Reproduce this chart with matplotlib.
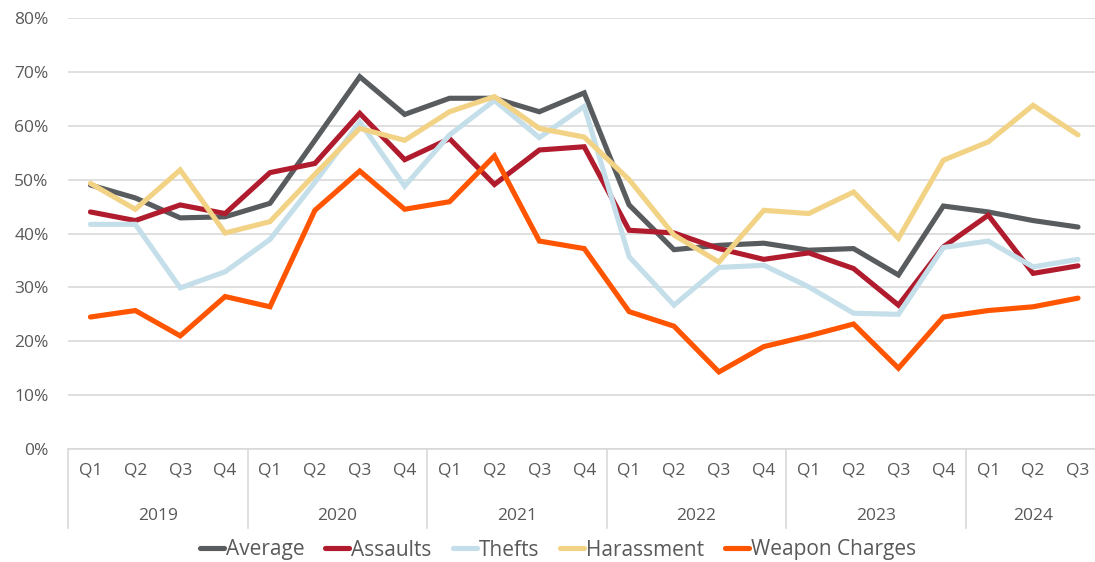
import matplotlib.pyplot as plt
from matplotlib.ticker import PercentFormatter

plt.rcParams['font.family'] = ['Open Sans', 'DejaVu Sans']

# Dados
years = ["2019", "2020", "2021", "2022", "2023", "2024"]
quarters_per_year = [4, 4, 4, 4, 4, 3]
quarter_labels = ["Q1", "Q2", "Q3", "Q4"] * 5 + ["Q1", "Q2", "Q3"]

average = [49.0, 46.6, 42.9, 43.1, 45.6, 57.3, 69.1, 62.1, 65.1, 65.1, 62.6, 66.1,
           45.3, 37.0, 37.8, 38.2, 36.9, 37.2, 32.3, 45.1, 44.0, 42.4, 41.2]
assaults = [44.0, 42.4, 45.3, 43.7, 51.3, 53.0, 62.3, 53.7, 57.6, 49.1, 55.5, 56.1,
            40.6, 40.1, 37.2, 35.2, 36.4, 33.5, 26.7, 37.5, 43.4, 32.6, 34.0]
thefts = [41.7, 41.7, 29.9, 32.9, 38.9, 49.5, 60.7, 48.8, 58.3, 64.7, 57.8, 63.6,
          35.7, 26.7, 33.7, 34.1, 30.1, 25.2, 25.0, 37.4, 38.6, 33.8, 35.2]
harassment = [49.3, 44.5, 51.8, 40.1, 42.2, 51.0, 59.5, 57.3, 62.6, 65.4, 59.5, 57.9,
              50.0, 39.7, 34.7, 44.3, 43.7, 47.7, 39.1, 53.6, 57.0, 63.8, 58.3]
weapons = [24.5, 25.7, 21.0, 28.3, 26.4, 44.3, 51.6, 44.5, 45.9, 54.4, 38.6, 37.2,
           25.5, 22.8, 14.3, 19.0, 21.0, 23.2, 15.0, 24.5, 25.7, 26.4, 28.0]

series = [
    ("Average", average, "#595c5f"),
    ("Assaults", assaults, "#b01c2e"),
    ("Thefts", thefts, "#c5dfea"),
    ("Harassment", harassment, "#f2d386"),
    ("Weapon Charges", weapons, "#ff5500"),
]

W, H = 1095, 562
fig = plt.figure(figsize=(W / 100, H / 100), dpi=100)
left, right, top, bottom = 68, 1095, 18, 449
ax = fig.add_axes([left / W, 1 - bottom / H, (right - left) / W, (bottom - top) / H])

xs = list(range(len(quarter_labels)))
for name, vals, col in series:
    ax.plot(xs, vals, color=col, linewidth=3.7, solid_capstyle="round",
            solid_joinstyle="miter", label=name)

grid_col = "#d9d9d9"
text_col = "#595959"

ax.set_ylim(0, 80)
ax.set_yticks(range(0, 81, 10))
ax.yaxis.set_major_formatter(PercentFormatter(decimals=0))
ax.grid(axis="y", color=grid_col, linewidth=1.2)
ax.set_axisbelow(True)
ax.set_xlim(-0.5, 22 + 17 / 44.9)
ax.set_xticks(xs)
ax.set_xticklabels(quarter_labels)
ax.tick_params(axis="both", length=0, labelsize=12.5, colors=text_col)
ax.tick_params(axis="x", pad=10)
ax.tick_params(axis="y", pad=14)
for s in ["top", "right", "left"]:
    ax.spines[s].set_visible(False)
ax.spines["bottom"].set_color(grid_col)
ax.spines["bottom"].set_linewidth(1.2)

# Eixo de categorias em dois níveis
ah = bottom - top
tr = ax.get_xaxis_transform()
start = -0.5
for yr, n in zip(years, quarters_per_year):
    ax.plot([start, start], [0, -(528 - bottom) / ah], transform=tr, color=grid_col,
            linewidth=1.2, clip_on=False)
    ax.text(start + n / 2, -(516 - bottom) / ah, yr, transform=tr, ha="center",
            va="center", fontsize=12.5, color=text_col)
    start += n

fig.legend(loc="center", bbox_to_anchor=(558 / W, 1 - 550 / H), ncol=5, frameon=False,
           fontsize=15, handlelength=1.15, handletextpad=0.1, columnspacing=1.0,
           labelcolor=text_col)

fig.savefig("out.png", dpi=100)
